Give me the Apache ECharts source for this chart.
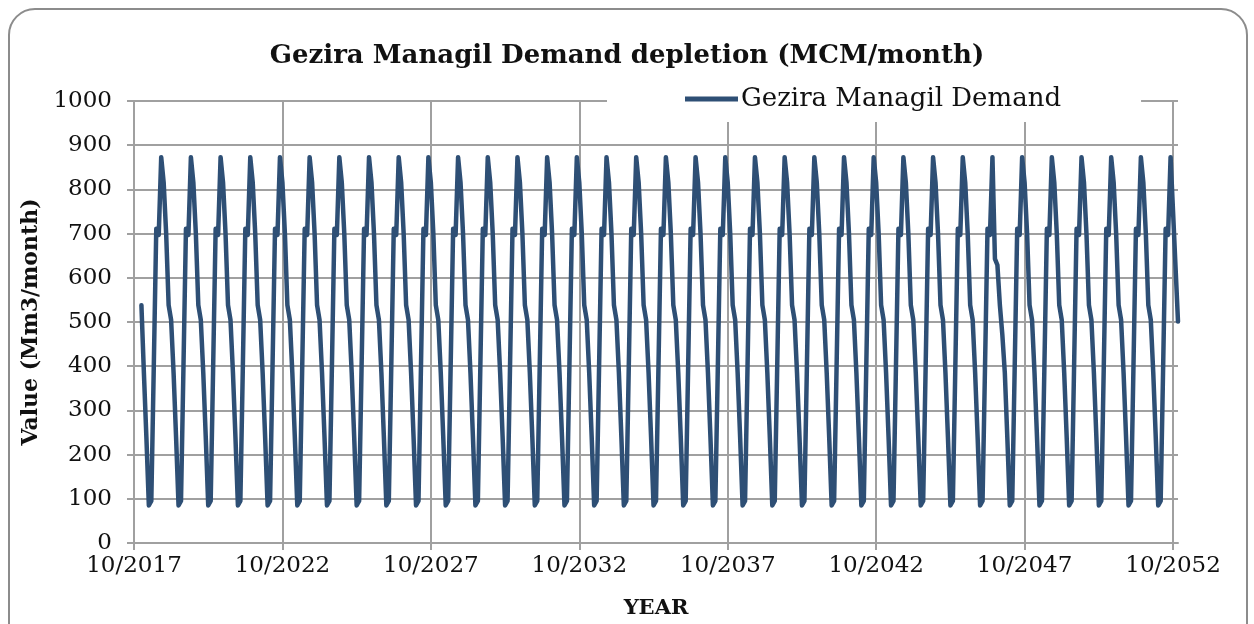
<!DOCTYPE html>
<html>
<head>
<meta charset="utf-8">
<script src="https://cdn.jsdelivr.net/npm/echarts@6/dist/echarts.min.js"></script>
<style>
html, body { margin: 0; padding: 0; background: #fff; }
#chart { width: 1254px; height: 624px; }
</style>
</head>
<body>
<div id="chart"></div>
<script>
// monthly demand (MCM/month), Jan..Dec, one row per year
var years = [2018, 2019, 2020, 2021, 2022, 2023, 2024, 2025, 2026, 2027,
             2028, 2029, 2030, 2031, 2032, 2033, 2034, 2035, 2036, 2037,
             2038, 2039, 2040, 2041, 2042, 2043, 2044, 2045, 2046, 2047,
             2048, 2049, 2050, 2051, 2052];
var demand = [
  [538, 385, 240, 85, 95, 400, 711, 697, 873, 815, 700, 538], // 2018
  [505, 385, 240, 85, 95, 400, 711, 697, 873, 815, 700, 538],
  [505, 385, 240, 85, 95, 400, 711, 697, 873, 815, 700, 538],
  [505, 385, 240, 85, 95, 400, 711, 697, 873, 815, 700, 538],
  [505, 385, 240, 85, 95, 400, 711, 697, 873, 815, 700, 538],
  [505, 385, 240, 85, 95, 400, 711, 697, 873, 815, 700, 538], // 2023
  [505, 385, 240, 85, 95, 400, 711, 697, 873, 815, 700, 538],
  [505, 385, 240, 85, 95, 400, 711, 697, 873, 815, 700, 538],
  [505, 385, 240, 85, 95, 400, 711, 697, 873, 815, 700, 538],
  [505, 385, 240, 85, 95, 400, 711, 697, 873, 815, 700, 538],
  [505, 385, 240, 85, 95, 400, 711, 697, 873, 815, 700, 538], // 2028
  [505, 385, 240, 85, 95, 400, 711, 697, 873, 815, 700, 538],
  [505, 385, 240, 85, 95, 400, 711, 697, 873, 815, 700, 538],
  [505, 385, 240, 85, 95, 400, 711, 697, 873, 815, 700, 538],
  [505, 385, 240, 85, 95, 400, 711, 697, 873, 815, 700, 538],
  [505, 385, 240, 85, 95, 400, 711, 697, 873, 815, 700, 538], // 2033
  [505, 385, 240, 85, 95, 400, 711, 697, 873, 815, 700, 538],
  [505, 385, 240, 85, 95, 400, 711, 697, 873, 815, 700, 538],
  [505, 385, 240, 85, 95, 400, 711, 697, 873, 815, 700, 538],
  [505, 385, 240, 85, 95, 400, 711, 697, 873, 815, 700, 538],
  [505, 385, 240, 85, 95, 400, 711, 697, 873, 815, 700, 538], // 2038
  [505, 385, 240, 85, 95, 400, 711, 697, 873, 815, 700, 538],
  [505, 385, 240, 85, 95, 400, 711, 697, 873, 815, 700, 538],
  [505, 385, 240, 85, 95, 400, 711, 697, 873, 815, 700, 538],
  [505, 385, 240, 85, 95, 400, 711, 697, 873, 815, 700, 538],
  [505, 385, 240, 85, 95, 400, 711, 697, 873, 815, 700, 538], // 2043
  [505, 385, 240, 85, 95, 400, 711, 697, 873, 815, 700, 538],
  [505, 385, 240, 85, 95, 400, 711, 697, 873, 815, 700, 538],
  [505, 385, 240, 85, 95, 400, 711, 697, 873, 643, 629, 538], // 2046
  [471, 385, 240, 85, 95, 400, 711, 697, 873, 815, 700, 538],
  [505, 385, 240, 85, 95, 400, 711, 697, 873, 815, 700, 538], // 2048
  [505, 385, 240, 85, 95, 400, 711, 697, 873, 815, 700, 538],
  [505, 385, 240, 85, 95, 400, 711, 697, 873, 815, 700, 538],
  [505, 385, 240, 85, 95, 400, 711, 697, 873, 815, 700, 538],
  [505, 385, 240, 85, 95, 400, 711, 697, 873, 750, 625, 501]  // 2052
];
var xTickMonths = [0, 60, 120, 180, 240, 300, 360, 420];
var xTicks = ['10/2017', '10/2022', '10/2027', '10/2032', '10/2037', '10/2042', '10/2047', '10/2052'];

var FONT = 'DejaVu Serif';
var GRID_GRAY = '#a0a0a0';

// x = months counted from 10/2017
var points = [];
for (var i = 0; i < years.length; i++) {
  for (var m = 0; m < 12; m++) {
    var idx = (years[i] - 2017) * 12 + (m + 1 - 10);
    points.push([idx, demand[i][m]]);
  }
}

var chart = echarts.init(document.getElementById('chart'));
chart.setOption({
  animation: false,
  backgroundColor: '#fff',
  graphic: [{
    type: 'rect',
    shape: { x: 9, y: 9, width: 1238, height: 660, r: 26 },
    style: { fill: 'none', stroke: '#8c8c8c', lineWidth: 2 },
    silent: true
  }],
  title: {
    text: 'Gezira Managil Demand depletion (MCM/month)',
    left: 'center',
    top: 38,
    textStyle: { fontFamily: FONT, fontWeight: 'bold', fontSize: 26, color: '#111' }
  },
  legend: {
    left: 607,
    top: 82,
    padding: [4, 80, 10, 78],
    backgroundColor: '#fff',
    icon: 'rect',
    itemWidth: 53,
    itemHeight: 5,
    textStyle: { fontFamily: FONT, fontSize: 26, color: '#111', padding: [0, 0, 0, -2] },
    data: ['Gezira Managil Demand']
  },
  grid: { left: 134, right: 76, top: 101, bottom: 81 },
  xAxis: {
    type: 'value',
    min: 0,
    max: 422,
    interval: 60,
    name: 'YEAR',
    nameLocation: 'middle',
    nameGap: 55,
    nameTextStyle: { fontFamily: FONT, fontWeight: 'bold', fontSize: 21, color: '#111' },
    axisLine: { lineStyle: { color: GRID_GRAY, width: 2 } },
    axisTick: { show: true, length: 7, customValues: xTickMonths, lineStyle: { color: GRID_GRAY, width: 2 } },
    axisLabel: {
      fontFamily: FONT, fontSize: 23, color: '#111', margin: 12,
      customValues: xTickMonths,
      formatter: function (v) { return xTicks[xTickMonths.indexOf(v)]; }
    },
    splitLine: { show: true, lineStyle: { color: GRID_GRAY, width: 2 } }
  },
  yAxis: {
    type: 'value',
    min: 0,
    max: 1000,
    interval: 100,
    name: 'Value (Mm3/month)',
    nameLocation: 'middle',
    nameGap: 88,
    nameTextStyle: { fontFamily: FONT, fontWeight: 'bold', fontSize: 22, color: '#111' },
    axisLine: { show: true, lineStyle: { color: GRID_GRAY, width: 2 } },
    axisTick: { show: true, length: 7, lineStyle: { color: GRID_GRAY, width: 2 } },
    axisLabel: {
      fontFamily: FONT, fontSize: 23, color: '#111', margin: 22,
      formatter: function (v) { return String(v); }
    },
    splitLine: { show: true, lineStyle: { color: GRID_GRAY, width: 2 } }
  },
  series: [{
    name: 'Gezira Managil Demand',
    type: 'line',
    data: points,
    showSymbol: false,
    color: '#2E4F75',
    lineStyle: { width: 4.5, color: '#2E4F75', join: 'round', cap: 'round' }
  }]
});
</script>
</body>
</html>
